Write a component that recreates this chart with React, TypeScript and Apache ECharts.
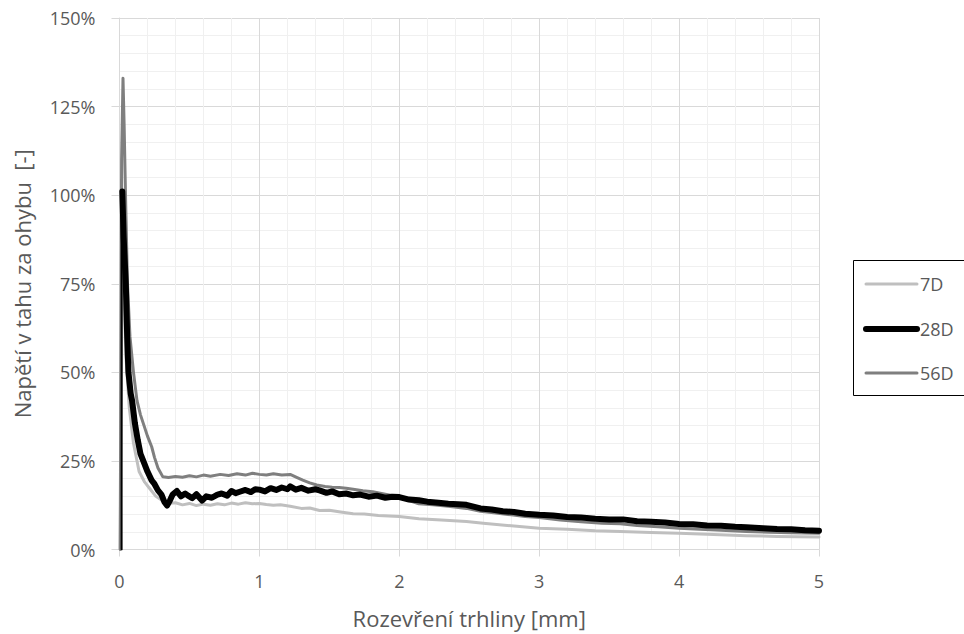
import React, { useEffect, useRef } from "react";
import * as echarts from "echarts";

const seriesNames = ["7D", "28D", "56D"];
const xTicks = [0, 1, 2, 3, 4, 5];
const yTicks = [0, 25, 50, 75, 100, 125, 150];

const data7D: [number, number][] = [
  [0.005, 0], [0.02, 95], [0.03, 80], [0.045, 55], [0.07, 40], [0.1, 30], [0.14, 22], [0.18, 19],
  [0.22, 17], [0.26, 15], [0.3, 14], [0.34, 13], [0.4, 13.2], [0.45, 12.6], [0.5, 13.0], [0.55, 12.4],
  [0.6, 12.8], [0.65, 12.5], [0.7, 12.9], [0.75, 12.6], [0.8, 13.1], [0.85, 12.8], [0.9, 13.2],
  [0.95, 12.9], [1.0, 13.0], [1.05, 12.7], [1.1, 12.5], [1.15, 12.6], [1.22, 12.2], [1.3, 11.6],
  [1.36, 11.7], [1.43, 11.0], [1.5, 11.1], [1.58, 10.6], [1.67, 10.1], [1.75, 10.0], [1.85, 9.6],
  [2.0, 9.3], [2.14, 8.7], [2.3, 8.3], [2.48, 7.9], [2.6, 7.4], [2.8, 6.7], [3.0, 6.0], [3.2, 5.7],
  [3.4, 5.3], [3.58, 5.1], [3.8, 4.8], [4.0, 4.6], [4.2, 4.3], [4.48, 3.9], [4.7, 3.7], [5.0, 3.5],
];

const data28DRise: [number, number][] = [
  [0.015, 0], [0.015, 101],
];

const data28D: [number, number][] = [
  [0.02, 101], [0.03, 88], [0.045, 75], [0.055, 60], [0.064, 50], [0.08, 44], [0.09, 42], [0.11, 35.6],
  [0.13, 31], [0.15, 27], [0.17, 25], [0.2, 22], [0.23, 19.5], [0.25, 18.5], [0.275, 16.7], [0.3, 15.5],
  [0.32, 13.5], [0.34, 12.4], [0.36, 13.8], [0.38, 15.5], [0.41, 16.5], [0.44, 15.0], [0.47, 15.8],
  [0.49, 15.2], [0.52, 14.5], [0.55, 15.6], [0.59, 13.8], [0.62, 15.0], [0.66, 14.6], [0.7, 15.5],
  [0.73, 15.8], [0.77, 15.2], [0.8, 16.5], [0.83, 15.9], [0.86, 16.3], [0.9, 16.8], [0.94, 16.2],
  [0.97, 17.0], [1.0, 16.9], [1.04, 16.4], [1.08, 17.3], [1.12, 16.8], [1.16, 17.5], [1.2, 17.0],
  [1.22, 17.8], [1.26, 16.9], [1.3, 17.4], [1.35, 16.6], [1.4, 17.0], [1.43, 16.7], [1.48, 16.0],
  [1.52, 16.4], [1.57, 15.6], [1.62, 15.8], [1.67, 15.3], [1.72, 15.5], [1.78, 14.9], [1.84, 15.2],
  [1.9, 14.6], [1.95, 14.9], [2.0, 14.8], [2.07, 14.1], [2.14, 13.9], [2.2, 13.5], [2.28, 13.2],
  [2.35, 12.9], [2.42, 12.8], [2.48, 12.6], [2.58, 11.6], [2.66, 11.3], [2.74, 10.8], [2.82, 10.6],
  [2.9, 10.1], [3.0, 9.8], [3.1, 9.6], [3.2, 9.2], [3.3, 9.0], [3.4, 8.7], [3.5, 8.5], [3.6, 8.5],
  [3.7, 8.0], [3.8, 7.8], [3.9, 7.6], [4.0, 7.2], [4.1, 7.1], [4.2, 6.8], [4.3, 6.7], [4.4, 6.4],
  [4.48, 6.3], [4.6, 6.0], [4.7, 5.8], [4.8, 5.7], [4.9, 5.4], [5.0, 5.3],
];

const data56D: [number, number][] = [
  [0.005, 0], [0.015, 110], [0.025, 133], [0.033, 120], [0.043, 100], [0.057, 75], [0.075, 60],
  [0.1, 50], [0.125, 42], [0.15, 38], [0.17, 35.6], [0.2, 32], [0.23, 29], [0.25, 26], [0.275, 23],
  [0.31, 20.5], [0.35, 20.3], [0.4, 20.6], [0.45, 20.4], [0.5, 20.8], [0.55, 20.5], [0.6, 21.0],
  [0.65, 20.7], [0.72, 21.2], [0.78, 20.9], [0.84, 21.4], [0.9, 21.0], [0.95, 21.5], [1.0, 21.2],
  [1.05, 21.0], [1.1, 21.4], [1.16, 21.0], [1.22, 21.2], [1.27, 20.3], [1.31, 19.6], [1.36, 18.8],
  [1.41, 18.2], [1.47, 17.8], [1.52, 17.6], [1.57, 17.5], [1.62, 17.3], [1.67, 17.0], [1.74, 16.6],
  [1.81, 16.3], [1.9, 15.6], [2.0, 14.8], [2.07, 13.8], [2.14, 12.9], [2.24, 12.6], [2.35, 12.2],
  [2.48, 11.6], [2.58, 10.8], [2.69, 10.3], [2.8, 9.8], [2.9, 9.3], [3.0, 9.0], [3.15, 8.3],
  [3.3, 7.8], [3.45, 7.4], [3.58, 7.3], [3.7, 6.8], [3.85, 6.4], [4.0, 6.0], [4.15, 5.7], [4.3, 5.4],
  [4.48, 5.1], [4.65, 4.9], [4.8, 4.7], [5.0, 4.6],
];

const colors = ["#bfbfbf", "#000000", "#7f7f7f"];
const widths = [3, 6, 3];

const FONT = "'Open Sans', 'Liberation Sans', sans-serif";
const TEXT = "#595959";

export default function App() {
  const ref = useRef<HTMLDivElement>(null);
  useEffect(() => {
    if (!ref.current) return;
    const chart = echarts.init(ref.current, null, { renderer: "svg" });
    const lineSeries = (name: string, data: [number, number][], i: number, width?: number) => ({
      name,
      type: "line",
      data,
      showSymbol: false,
      symbol: "none",
      silent: true,
      lineStyle: { color: colors[i], width: width ?? widths[i], cap: "round", join: "round" },
      itemStyle: { color: colors[i] },
    });
    const legendYs = [284, 329, 373];
    const legendGraphics: any[] = [
      {
        type: "rect",
        shape: { x: 853.5, y: 260.5, width: 200, height: 135 },
        style: { fill: "#ffffff", stroke: "#000000", lineWidth: 1 },
        z: 10,
      },
    ];
    seriesNames.forEach((n, i) => {
      legendGraphics.push({
        type: "line",
        shape: { x1: 866, y1: legendYs[i], x2: 917, y2: legendYs[i] },
        style: { stroke: colors[i], lineWidth: widths[i], lineCap: "round" },
        z: 11,
      });
      legendGraphics.push({
        type: "text",
        x: 920,
        y: legendYs[i],
        style: { text: n, fill: TEXT, font: `18px ${FONT}`, textVerticalAlign: "middle", verticalAlign: "middle" },
        z: 11,
      });
    });
    chart.setOption({
      animation: false,
      backgroundColor: "#ffffff",
      grid: { left: 119.5, right: 145, top: 18, bottom: 84.5, containLabel: false },
      xAxis: {
        type: "value",
        min: xTicks[0],
        max: xTicks[xTicks.length - 1],
        interval: 1,
        name: "Rozevření trhliny [mm]",
        nameLocation: "middle",
        nameGap: 57,
        nameTextStyle: { color: TEXT, fontSize: 22, fontFamily: FONT },
        axisLine: { show: true, onZero: false, lineStyle: { color: "#d9d9d9", width: 1 } },
        axisTick: { show: true, length: 7, lineStyle: { color: "#d9d9d9" } },
        axisLabel: { color: TEXT, fontSize: 18, fontFamily: FONT, margin: 22 },
        splitLine: { show: true, lineStyle: { color: "#d9d9d9", width: 1 } },
        minorTick: { show: false, splitNumber: 5 },
        minorSplitLine: { show: true, lineStyle: { color: "#f0f0f0", width: 1 } },
      },
      yAxis: {
        type: "value",
        min: yTicks[0],
        max: yTicks[yTicks.length - 1],
        interval: 25,
        name: "Napětí v tahu za ohybu  [-]",
        nameLocation: "middle",
        nameGap: 87,
        nameTextStyle: { color: TEXT, fontSize: 22, fontFamily: FONT },
        axisLine: { show: true, lineStyle: { color: "#d9d9d9", width: 1 } },
        axisTick: { show: true, length: 8, lineStyle: { color: "#d9d9d9" } },
        axisLabel: { color: TEXT, fontSize: 18, fontFamily: FONT, margin: 24, formatter: "{value}%" },
        splitLine: { show: true, lineStyle: { color: "#d9d9d9", width: 1 } },
        minorTick: { show: false, splitNumber: 5 },
        minorSplitLine: { show: true, lineStyle: { color: "#f0f0f0", width: 1 } },
      },
      series: [
        lineSeries(seriesNames[0], data7D, 0),
        lineSeries(seriesNames[2], data56D, 2),
        lineSeries(seriesNames[1], data28D, 1),
        lineSeries(seriesNames[1] + " ", data28DRise, 1, 2),
      ],
      graphic: legendGraphics,
    });
    return () => chart.dispose();
  }, []);
  return <div ref={ref} style={{ position: "fixed", left: 0, top: 0, width: 964, height: 634 }} />;
}
